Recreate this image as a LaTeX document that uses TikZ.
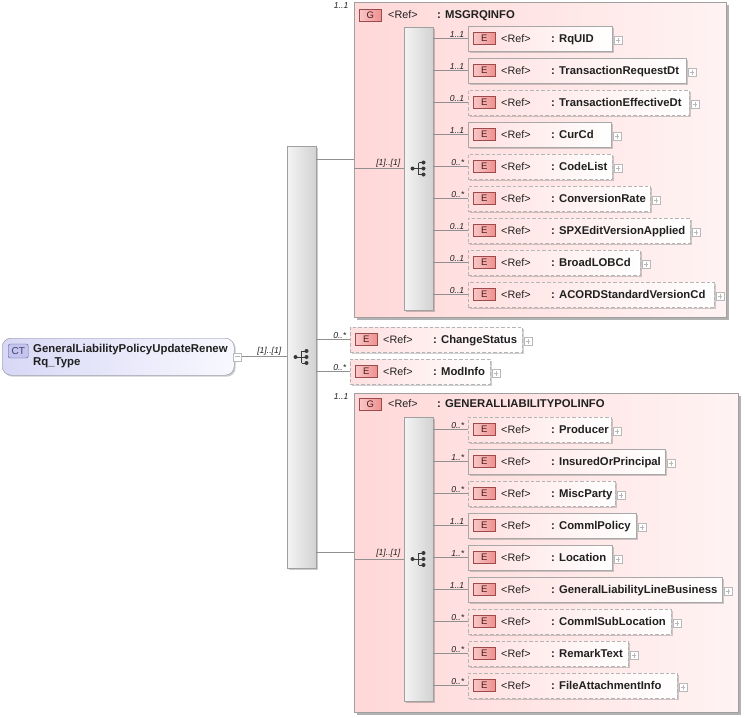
\documentclass[tikz,border=0pt]{standalone}
\usepackage{fontspec}
\setmainfont{Liberation Sans}
\usetikzlibrary{shadows}
\definecolor{grpL}{HTML}{FFD8D8}
\definecolor{grpR}{HTML}{FFF3F3}
\definecolor{grpB}{HTML}{A0A0A0}
\definecolor{elL}{HTML}{FFE0E0}
\definecolor{elB}{HTML}{A8A8A8}
\definecolor{eL}{HTML}{F9C8C8}
\definecolor{eR}{HTML}{EE9090}
\definecolor{eB}{HTML}{9C4A4A}
\definecolor{seqL}{HTML}{F4F4F4}
\definecolor{seqR}{HTML}{D2D2D2}
\definecolor{ctL}{HTML}{D8D8F6}
\definecolor{ctR}{HTML}{F8F8FF}
\definecolor{ctB}{HTML}{8C8CA8}
\definecolor{ctlF}{HTML}{C4C4EE}
\definecolor{ctlB}{HTML}{5A5A9A}
\definecolor{txt}{HTML}{202020}
\definecolor{lineC}{HTML}{909090}
\definecolor{iconC}{HTML}{383838}
\begin{document}
\begin{tikzpicture}[x=1pt,y=-1pt,
  grpbox/.style={draw=grpB, left color=grpL, right color=grpR, anchor=north west, inner sep=0, outer sep=0,
    drop shadow={shadow xshift=2.5pt,shadow yshift=-2.5pt,opacity=0.3,fill=black}},
  seqbox/.style={draw=grpB, left color=seqL, right color=seqR, anchor=north west, inner sep=0, outer sep=0, minimum width=29pt,
    drop shadow={shadow xshift=1.5pt,shadow yshift=-1.5pt,opacity=0.2,fill=black}},
  elbox/.style={left color=elL, right color=white, anchor=north west, inner sep=0, outer sep=0, minimum height=25pt,
    drop shadow={shadow xshift=1.5pt,shadow yshift=-1.5pt,opacity=0.18,fill=black}},
  reqbox/.style={draw=elB},
  optbox/.style={draw=elB!85, dash pattern=on 3.5pt off 2pt},
  ebox/.style={draw=eB, left color=eL, right color=eR, anchor=west, minimum width=22pt, minimum height=12pt, inner sep=0,
    font=\fontsize{9.5}{11}\selectfont, text=txt!80!red},
  reft/.style={anchor=west, inner sep=0, text height=8pt, text depth=0.5pt, font=\fontsize{10.8}{12}\selectfont, text=txt},
  namet/.style={anchor=west, inner sep=0, text height=8pt, text depth=0.5pt, font=\fontsize{11.3}{12}\selectfont\bfseries, text=txt},
  plusbox/.style={draw=gray!55, fill=white, minimum size=8pt, inner sep=0,
    path picture={\draw[gray!55,line width=0.5pt] ([xshift=1.8pt]path picture bounding box.west) -- ([xshift=-1.8pt]path picture bounding box.east)
      ([yshift=-1.8pt]path picture bounding box.north) -- ([yshift=1.8pt]path picture bounding box.south);}},
  minusbox/.style={draw=gray!55, fill=white, minimum size=8pt, inner sep=0,
    path picture={\draw[gray!55,line width=0.5pt] ([xshift=1.8pt]path picture bounding box.west) -- ([xshift=-1.8pt]path picture bounding box.east);}},
  conn/.style={draw=lineC, line width=0.6pt},
  mult/.style={pos=1, anchor=south east, xshift=-3pt, yshift=0.5pt, inner sep=0.5pt, font=\fontsize{8.6}{9}\selectfont\itshape, text=txt},
  multn/.style={inner sep=0.5pt, font=\fontsize{8.6}{9}\selectfont\itshape, text=txt},
]
\useasboundingbox (0,0) rectangle (745,718);

\newcommand\seqicon[1]{%
  \begin{scope}[shift={(#1.center)}]
    \draw[iconC, line width=0.8pt] (-6,0) -- (0,0) (0,-6) -- (0,6) (0,-6) -- (5,-6) (0,0) -- (5,0) (0,6) -- (5,6);
    \fill[iconC] (-6,0) circle (2) (5,-6) circle (2) (5,0) circle (2) (5,6) circle (2);
  \end{scope}}

\newcommand\xel[8]{%
  \node[elbox,#7,minimum width=#4pt] (#1) at (#2,#3) {};
  \node[ebox] (#1e) at ([xshift=5pt]#1.west) {E};
  \node[reft] (#1r) at ([xshift=33pt]#1.west) {<Ref>};
  \node[namet] (#1n) at ([xshift=83pt]#1.west) {: #5};
  \node[plusbox] (#1p) at ([xshift=6pt,yshift=-2pt]#1.east) {};
  \draw[conn] (#8.east |- #1.west) -- (#1.west) node[mult] {#6};
}

% complex type
\node[draw=ctB, left color=ctL, right color=ctR, rounded corners=9pt, anchor=north west, minimum width=232pt, minimum height=37pt, inner sep=0,
  drop shadow={shadow xshift=1.5pt,shadow yshift=-1.5pt,opacity=0.2,fill=black}] (ct) at (2,338) {};
\node[draw=ctlB, fill=ctlF, rounded corners=2pt, anchor=west, minimum width=20pt, minimum height=14pt, inner sep=0,
  font=\fontsize{10}{11}\selectfont, text=ctlB!70!black] (ctl) at (8,351) {CT};
\node[anchor=north west, align=left, inner sep=0, font=\fontsize{11.4}{13}\selectfont\bfseries, text=txt] (ctt) at (33,344)
  {GeneralLiabilityPolicyUpdateRenew\\Rq\_Type};
\node[minusbox] (ctm) at ([xshift=3pt]ct.east) {};

% main sequence
\node[seqbox, minimum height=422pt] (mseq) at (287,146) {};
\seqicon{mseq}
\draw[conn] (ctm.east) -- (ctm.east -| mseq.west) node[mult, xshift=-2pt] {[1]..[1]};

% group 1
\node[grpbox, minimum width=372pt, minimum height=315pt] (g1) at (354,2) {};
\node[multn, anchor=north east] (g1m) at ([xshift=-5pt]g1.north west) {1..1};
\node[ebox] (g1g) at (359,15) {G};
\node[reft] (g1r) at (388,15) {<Ref>};
\node[namet] (g1n) at (437,15) {: MSGRQINFO};
\node[seqbox, minimum height=283pt] (g1s) at (404,27) {};
\seqicon{g1s}
\draw[conn] (mseq.east |- g1.west) -- (g1.west);
\draw[conn] (g1.west |- g1s.west) -- (g1s.west) node[mult, xshift=0pt] {[1]..[1]};

\xel{a1}{468}{26}{144}{RqUID}{1..1}{reqbox}{g1s}
\xel{a2}{468}{58}{218}{TransactionRequestDt}{1..1}{reqbox}{g1s}
\xel{a3}{468}{90}{221}{TransactionEffectiveDt}{0..1}{optbox}{g1s}
\xel{a4}{468}{122}{143}{CurCd}{1..1}{reqbox}{g1s}
\xel{a5}{468}{154}{144}{CodeList}{0..*}{optbox}{g1s}
\xel{a6}{468}{186}{182}{ConversionRate}{0..*}{optbox}{g1s}
\xel{a7}{468}{218}{222}{SPXEditVersionApplied}{0..1}{optbox}{g1s}
\xel{a8}{468}{250}{172}{BroadLOBCd}{0..1}{optbox}{g1s}
\xel{a9}{468}{282}{246}{ACORDStandardVersionCd}{0..1}{optbox}{g1s}

% middle elements
\xel{m1}{350}{327}{172}{ChangeStatus}{0..*}{optbox}{mseq}
\xel{m2}{350}{359}{140}{ModInfo}{0..*}{optbox}{mseq}

% group 2
\node[grpbox, minimum width=384pt, minimum height=319pt] (g2) at (354,393) {};
\node[multn, anchor=north east] (g2m) at ([xshift=-5pt]g2.north west) {1..1};
\node[ebox] (g2g) at (359,404) {G};
\node[reft] (g2r) at (388,404) {<Ref>};
\node[namet] (g2n) at (437,404) {: GENERALLIABILITYPOLINFO};
\node[seqbox, minimum height=284pt] (g2s) at (404,417) {};
\seqicon{g2s}
\draw[conn] (mseq.east |- g2.west) -- (g2.west);
\draw[conn] (g2.west |- g2s.west) -- (g2s.west) node[mult, xshift=0pt] {[1]..[1]};

\xel{b1}{468}{417}{143}{Producer}{0..*}{optbox}{g2s}
\xel{b2}{468}{449}{197}{InsuredOrPrincipal}{1..*}{reqbox}{g2s}
\xel{b3}{468}{481}{147}{MiscParty}{0..*}{optbox}{g2s}
\xel{b4}{468}{513}{168}{CommlPolicy}{1..1}{reqbox}{g2s}
\xel{b5}{468}{545}{144}{Location}{1..*}{reqbox}{g2s}
\xel{b6}{468}{577}{254}{GeneralLiabilityLineBusiness}{1..1}{reqbox}{g2s}
\xel{b7}{468}{609}{203}{CommlSubLocation}{0..*}{optbox}{g2s}
\xel{b8}{468}{641}{160}{RemarkText}{0..*}{optbox}{g2s}
\xel{b9}{468}{673}{209}{FileAttachmentInfo}{0..*}{optbox}{g2s}
\end{tikzpicture}
\end{document}
